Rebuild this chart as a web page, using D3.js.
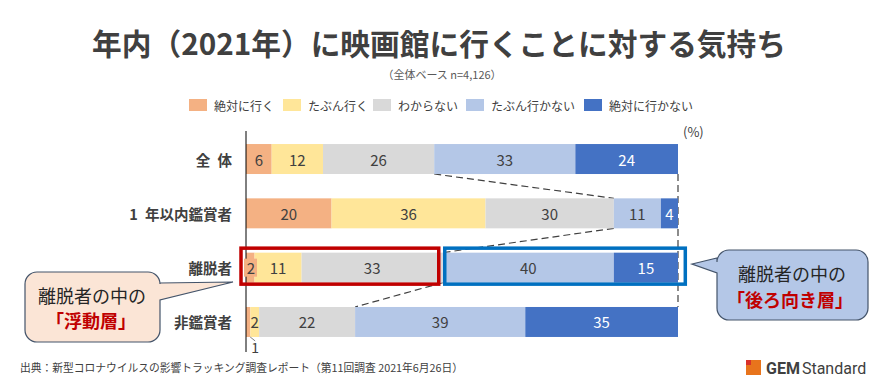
<!DOCTYPE html>
<html>
<head>
<meta charset="utf-8">
<script src="https://cdn.jsdelivr.net/npm/d3@7"></script>
<style>
  body { margin:0; background:#fff; }
  svg { display:block; font-family:"Noto Sans CJK JP","Noto Sans",sans-serif; }
</style>
</head>
<body>
<div id="chart"></div>
<script>
var categories = ["全 体", "1 年以内鑑賞者", "離脱者", "非鑑賞者"];
var seriesNames = ["絶対に行く", "たぶん行く", "わからない", "たぶん行かない", "絶対に行かない"];
var colors = ["#F4B183", "#FFE699", "#D9D9D9", "#B4C7E7", "#4472C4"];
var values = [
    [6, 12, 26, 33, 24],
    [20, 36, 30, 11, 4],
    [2, 11, 33, 40, 15],
    [1, 2, 22, 39, 35]
];

var width = 884, height = 386;

var svg = d3.select("#chart")
    .append("svg")
    .attr("width", width)
    .attr("height", height);

var rows = categories.map(function(c, i) {
    var o = {cat: c};
    seriesNames.forEach(function(s, j) { o[s] = values[i][j]; });
    return o;
});

// shares are rounded in the source, so each row is normalised to 100%
var stack = d3.stack().keys(seriesNames).offset(d3.stackOffsetExpand);
var layers = stack(rows);

var x = d3.scaleLinear().domain([0, 1]).range([246, 678]);
var y = d3.scaleBand().domain(categories).range([119.7, 361.3]).padding(0.448);

// title
svg.append("text")
    .attr("x", 439).attr("y", 42)
    .attr("text-anchor", "middle").attr("dominant-baseline", "central")
    .attr("font-size", 30).attr("font-weight", 700).attr("fill", "#404040")
    .attr("textLength", 694).attr("lengthAdjust", "spacingAndGlyphs")
    .text("年内（2021年）に映画館に行くことに対する気持ち");

svg.append("text")
    .attr("x", 442).attr("y", 74)
    .attr("text-anchor", "middle").attr("dominant-baseline", "central")
    .attr("font-size", 11).attr("fill", "#595959")
    .text("（全体ベース n=4,126）");

// legend
var legendX = [189, 283, 373, 466, 584];
var legend = svg.selectAll(".legend")
    .data(seriesNames)
    .enter().append("g")
    .attr("class", "legend")
    .attr("transform", function(d, i) { return "translate(" + legendX[i] + ",105)"; });
legend.append("rect")
    .attr("x", 0).attr("y", -6).attr("width", 18).attr("height", 12)
    .attr("fill", function(d, i) { return colors[i]; });
legend.append("text")
    .attr("x", 25).attr("y", 0)
    .attr("dominant-baseline", "central")
    .attr("font-size", 12).attr("fill", "#404040")
    .text(function(d) { return d; });

svg.append("text")
    .attr("x", 683).attr("y", 131)
    .attr("dominant-baseline", "central")
    .attr("font-size", 13).attr("fill", "#404040")
    .text("(%)");

// dashed connectors between 行かない segments
var lb = layers[3];
var conn = svg.append("g").attr("stroke", "#404040").attr("stroke-width", 1.2)
    .attr("stroke-dasharray", "7,4").attr("fill", "none");
for (var i = 0; i < categories.length - 1; i++) {
    conn.append("line")
        .attr("x1", x(lb[i][0])).attr("y1", y(categories[i]) + y.bandwidth())
        .attr("x2", x(lb[i + 1][0])).attr("y2", y(categories[i + 1]));
}
conn.append("line")
    .attr("x1", x(1)).attr("y1", y(categories[0]) + y.bandwidth())
    .attr("x2", x(1)).attr("y2", y(categories[3]));

// bars
var layer = svg.selectAll(".layer")
    .data(layers)
    .enter().append("g")
    .attr("class", "layer")
    .attr("fill", function(d, i) { return colors[i]; });

layer.selectAll("rect")
    .data(function(d) { return d; })
    .enter().append("rect")
    .attr("x", function(d) { return x(d[0]); })
    .attr("y", function(d) { return y(d.data.cat); })
    .attr("width", function(d) { return x(d[1]) - x(d[0]); })
    .attr("height", y.bandwidth());

// category axis
svg.append("line")
    .attr("x1", 246).attr("x2", 246).attr("y1", 131).attr("y2", 352)
    .attr("stroke", "#000").attr("stroke-width", 1);

svg.selectAll(".cat")
    .data(categories)
    .enter().append("text")
    .attr("class", "cat")
    .attr("x", 232)
    .attr("y", function(d) { return y(d) + y.bandwidth() / 2; })
    .attr("text-anchor", "end").attr("dominant-baseline", "central")
    .attr("font-size", 14.5).attr("font-weight", 700).attr("fill", "#404040")
    .text(function(d) { return d.replace(" ", "\u2002"); });

// highlight boxes around 離脱者
var split = x(lb[2][0]);
var boxTop = y(categories[2]) - 4.5;
svg.append("rect")
    .attr("x", 241).attr("y", boxTop).attr("width", split - 4 - 241).attr("height", y.bandwidth() + 6)
    .attr("fill", "none").attr("stroke", "#C00000").attr("stroke-width", 3.5);
svg.append("rect")
    .attr("x", split + 2).attr("y", boxTop).attr("width", 685.3 - split - 2).attr("height", y.bandwidth() + 6)
    .attr("fill", "none").attr("stroke", "#0070C0").attr("stroke-width", 3.5);

// value labels
layers.forEach(function(L, si) {
    L.forEach(function(d, ri) {
        var v = d.data[L.key];
        var cx = (x(d[0]) + x(d[1])) / 2;
        var cy = y(d.data.cat) + y.bandwidth() / 2;
        if (ri === 3 && si === 0) {
            // too thin: label sits under the bar with a leader line
            svg.append("path")
                .attr("d", "M" + (cx + 2) + "," + (cy + 15) + " L" + (cx + 7) + "," + (cy + 19))
                .attr("stroke", "#7f7f7f").attr("fill", "none");
            svg.append("text")
                .attr("x", cx + 7).attr("y", cy + 25)
                .attr("text-anchor", "middle").attr("dominant-baseline", "central")
                .attr("font-size", 14).attr("fill", "#404040")
                .text(v);
            return;
        }
        if (ri === 2 && si === 0) {
            svg.append("rect")
                .attr("x", 244).attr("y", cy - 9)
                .attr("width", 13).attr("height", 18)
                .attr("fill", colors[0]);
            cx = 251;
        }
        svg.append("text")
            .attr("x", cx).attr("y", cy)
            .attr("text-anchor", "middle").attr("dominant-baseline", "central")
            .attr("font-size", 15)
            .attr("fill", si === 4 ? "#fff" : "#404040")
            .text(v);
    });
});

// callouts
function callout(bx, by, w, h, r, side, b1, b2, tx, ty) {
    var p = "M" + (bx + r) + "," + by + " H" + (bx + w - r) +
        " A" + r + "," + r + " 0 0 1 " + (bx + w) + "," + (by + r);
    if (side === "right") p += " V" + b1 + " L" + tx + "," + ty + " L" + (bx + w) + "," + b2;
    p += " V" + (by + h - r) + " A" + r + "," + r + " 0 0 1 " + (bx + w - r) + "," + (by + h) +
        " H" + (bx + r) + " A" + r + "," + r + " 0 0 1 " + bx + "," + (by + h - r);
    if (side === "left") p += " V" + b2 + " L" + tx + "," + ty + " L" + bx + "," + b1;
    p += " V" + (by + r) + " A" + r + "," + r + " 0 0 1 " + (bx + r) + "," + by + " Z";
    return p;
}

svg.append("path")
    .attr("d", callout(25, 272, 135, 70, 12, "right", 283, 300, 233, 282))
    .attr("fill", "#FBE5D6").attr("stroke", "#44546A").attr("stroke-width", 1.2);
svg.append("text").attr("x", 92).attr("y", 295)
    .attr("text-anchor", "middle").attr("dominant-baseline", "central")
    .attr("font-size", 18).attr("fill", "#262626").text("離脱者の中の");
svg.append("text").attr("x", 91).attr("y", 320)
    .attr("text-anchor", "middle").attr("dominant-baseline", "central")
    .attr("font-size", 18).attr("font-weight", 700).attr("fill", "#C00000").text("「浮動層」");

svg.append("path")
    .attr("d", callout(717, 250, 151, 70, 12, "left", 258, 273, 692, 264))
    .attr("fill", "#B4C7E7").attr("stroke", "#44546A").attr("stroke-width", 1.2);
svg.append("text").attr("x", 792).attr("y", 273)
    .attr("text-anchor", "middle").attr("dominant-baseline", "central")
    .attr("font-size", 18).attr("fill", "#262626").text("離脱者の中の");
svg.append("text").attr("x", 790).attr("y", 299)
    .attr("text-anchor", "middle").attr("dominant-baseline", "central")
    .attr("font-size", 18).attr("font-weight", 700).attr("fill", "#C00000").text("「後ろ向き層」");

// footer
svg.append("text")
    .attr("x", 20).attr("y", 367)
    .attr("dominant-baseline", "central")
    .attr("font-size", 11).attr("fill", "#404040")
    .attr("textLength", 443).attr("lengthAdjust", "spacingAndGlyphs")
    .text("出典：新型コロナウイルスの影響トラッキング調査レポート（第11回調査 2021年6月26日）");

// logo
svg.append("rect").attr("x", 746).attr("y", 360).attr("width", 15).attr("height", 15).attr("fill", "#E8741C");
svg.append("rect").attr("x", 746).attr("y", 360).attr("width", 5).attr("height", 5).attr("fill", "#D9302A");
var logo = svg.append("text").attr("x", 766).attr("y", 368)
    .attr("dominant-baseline", "central")
    .attr("font-family", "Roboto, 'Open Sans', sans-serif")
    .attr("font-size", 16).attr("fill", "#404040");
logo.append("tspan").attr("font-weight", 700).text("GEM");
logo.append("tspan").attr("dx", 2).text("Standard");
</script>
</body>
</html>
